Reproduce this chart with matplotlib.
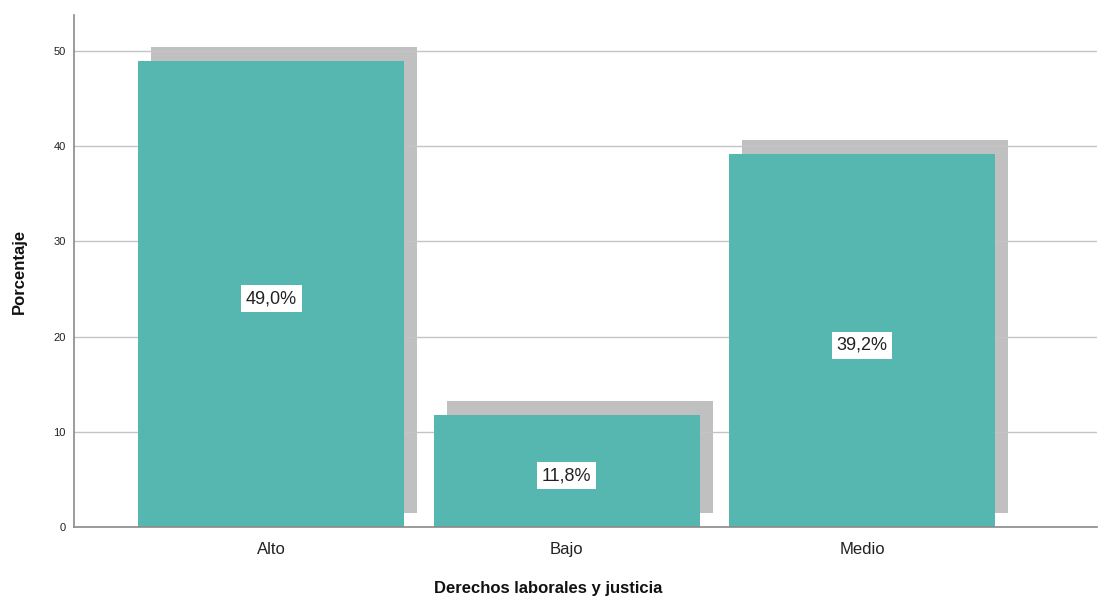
import matplotlib.pyplot as plt
import numpy as np

plt.rcParams['font.family'] = ['Liberation Sans', 'DejaVu Sans']

categorias = ['Alto', 'Bajo', 'Medio']
porcentajes = [49.0, 11.8, 39.2]
etiquetas = ['49,0%', '11,8%', '39,2%']

color_barra = '#55b7b0'
color_sombra = '#c0c0c0'

fig = plt.figure(figsize=(10.99, 6.0), dpi=100)
ax = fig.add_axes([74 / 1099, 73 / 600, 1023 / 1099, 512 / 600])

x = np.arange(len(categorias))
ancho = 0.9

# sombra desplazada detras de cada barra
ax.bar(x + 0.045, porcentajes, width=ancho, bottom=1.47, color=color_sombra, zorder=1)
ax.bar(x, porcentajes, width=ancho, color=color_barra, zorder=3)

for xi, v, txt in zip(x, porcentajes, etiquetas):
    ax.annotate(txt, (xi, v / 2), xytext=(0, -3.6), textcoords='offset points',
                ha='center', va='center', fontsize=13, color='#222222', zorder=4,
                bbox=dict(facecolor='white', edgecolor='none', pad=3.5))

ax.set_xlim(-0.667, 2.795)
ax.set_ylim(0, 53.8)
ax.set_yticks([0, 10, 20, 30, 40, 50])
ax.set_xticks(x)
ax.set_xticklabels(categorias, fontsize=12, color='#222222')
ax.tick_params(axis='y', length=0, labelsize=8, pad=6, colors='#222222')
ax.tick_params(axis='x', length=0, labelsize=12, pad=11)

ax.yaxis.grid(True, color='#c4c4c4', linewidth=1.0)
for gl in ax.get_ygridlines():
    gl.set_zorder(2)

for s in ['top', 'right']:
    ax.spines[s].set_visible(False)
for s in ['left', 'bottom']:
    ax.spines[s].set_color('#8a8a8a')
    ax.spines[s].set_linewidth(1.2)
    ax.spines[s].set_zorder(5)

ax.set_ylabel('Porcentaje', fontsize=12, fontweight='bold', color='#111111')
ax.yaxis.set_label_coords(-0.046, 0.5)
ax.set_xlabel('Derechos laborales y justicia', fontsize=12, fontweight='bold', color='#111111')
ax.xaxis.set_label_coords(0.4634, -0.105)

fig.savefig('out.png', dpi=100, facecolor='white')
